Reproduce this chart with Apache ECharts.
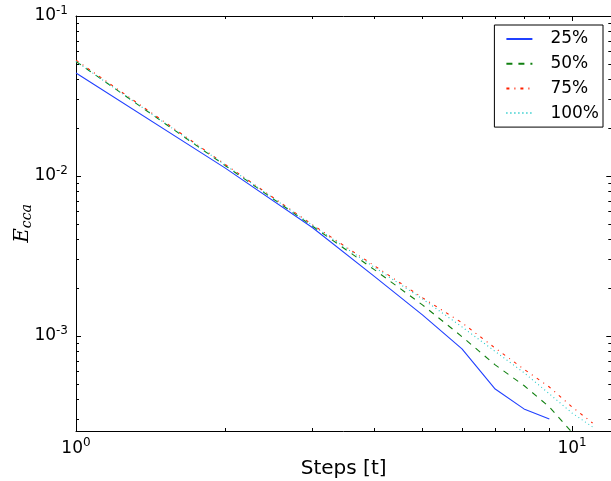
<!DOCTYPE html>
<html>
<head>
<meta charset="utf-8">
<script src="https://cdn.jsdelivr.net/npm/echarts@6/dist/echarts.min.js"></script>
<style>
html,body{margin:0;padding:0;background:#fff;}
#chart{width:611px;height:481px;}
</style>
</head>
<body>
<div id="chart"></div>
<script>
// ---- data ----
var steps = [1, 2, 3, 4, 5, 6, 7, 8, 9, 10, 11];
var seriesNames = ['25%', '50%', '75%', '100%'];
var e25  = [0.044, 0.0112, 0.00475, 0.00235, 0.00135, 0.00083, 0.000466, 0.00035, 0.000303];
var e50  = [0.052, 0.0116, 0.00485, 0.00259, 0.00156, 0.00099, 0.00066, 0.00049, 0.00036, 0.00025];
var e75  = [0.053, 0.0118, 0.00495, 0.00274, 0.00173, 0.00121, 0.00084, 0.00062, 0.00048, 0.00036, 0.000286];
var e100 = [0.052, 0.0117, 0.0049, 0.00268, 0.0017, 0.00114, 0.0008, 0.00059, 0.000435, 0.00033, 0.00027];
var xMajorTicks = [1, 10];
var xMinorTicks = [2, 3, 4, 5, 6, 7, 8, 9];
var yMajorTicks = [0.001, 0.01, 0.1];
var yMinorTicks = [0.0003, 0.0004, 0.0005, 0.0006, 0.0007, 0.0008, 0.0009,
                   0.002, 0.003, 0.004, 0.005, 0.006, 0.007, 0.008, 0.009,
                   0.02, 0.03, 0.04, 0.05, 0.06, 0.07, 0.08, 0.09];
var X_MIN = 1, X_MAX = 12, Y_MIN = 2.547e-4, Y_MAX = 0.1;

function pairs(vals) {
  var out = [];
  for (var i = 0; i < vals.length; i++) out.push([steps[i], vals[i]]);
  return out;
}

var FONT = 'DejaVu Sans';
var labelRich = {
  b: { fontSize: 17, fontFamily: FONT, color: '#000' },
  s: { fontSize: 12, fontFamily: FONT, color: '#000', padding: [0, 0, 11, 0] }
};
function powLabel(v) {
  return '{b|10}{s|' + Math.round(Math.log10(v)) + '}';
}

function xAx(pos, ticks, len, showLine, label) {
  return {
    type: 'log', position: pos, min: X_MIN, max: X_MAX, logBase: 10,
    axisLine: { show: showLine, lineStyle: { color: '#000', width: 1 } },
    axisTick: { show: true, inside: true, length: len, customValues: ticks, lineStyle: { color: '#000', width: 1 } },
    axisLabel: label ? { show: true, customValues: xMajorTicks, formatter: powLabel, rich: labelRich, margin: 6 } : { show: false },
    splitLine: { show: false }, minorTick: { show: false }
  };
}
function yAx(pos, ticks, len, showLine, label) {
  return {
    type: 'log', position: pos, min: Y_MIN, max: Y_MAX, logBase: 10,
    axisLine: { show: showLine, lineStyle: { color: '#000', width: 1 } },
    axisTick: { show: true, inside: true, length: len, customValues: ticks, lineStyle: { color: '#000', width: 1 } },
    axisLabel: label ? { show: true, customValues: yMajorTicks, formatter: powLabel, rich: labelRich, margin: 8 } : { show: false },
    splitLine: { show: false }, minorTick: { show: false }
  };
}

var xAxes = [
  xAx('bottom', xMajorTicks, 5, true, true),
  xAx('bottom', xMinorTicks, 3, false, false),
  xAx('top', xMajorTicks, 5, true, false),
  xAx('top', xMinorTicks, 3, false, false)
];
xAxes[0].name = 'Steps [t]';
xAxes[0].nameLocation = 'middle';
xAxes[0].nameGap = 28;
xAxes[0].nameMoveOverlap = false;
xAxes[0].nameTextStyle = { fontSize: 20, fontFamily: FONT, color: '#000' };

var yAxes = [
  yAx('left', yMajorTicks, 5, true, true),
  yAx('left', yMinorTicks, 3, false, false),
  yAx('right', yMajorTicks, 5, false, false),
  yAx('right', yMinorTicks, 3, false, false)
];
yAxes[0].name = '{e|E}{s|cca}';
yAxes[0].nameLocation = 'middle';
yAxes[0].nameGap = 42;
yAxes[0].nameRotate = 90;
yAxes[0].nameMoveOverlap = false;
yAxes[0].nameTextStyle = {
  rich: {
    e: { fontSize: 20, fontFamily: 'DejaVu Serif', fontStyle: 'italic', color: '#000' },
    s: { fontSize: 14, fontFamily: 'DejaVu Serif', fontStyle: 'italic', color: '#000', padding: [9, 0, 0, 0] }
  }
};

function lineSeries(name, vals, color, dash) {
  return {
    name: name, type: 'line', xAxisIndex: 0, yAxisIndex: 0,
    data: pairs(vals), showSymbol: false, symbol: 'none', clip: true,
    lineStyle: { color: color, width: 1.1, type: dash },
    itemStyle: { color: color },
    emphasis: { disabled: true }
  };
}

var chart = echarts.init(document.getElementById('chart'), null, { renderer: 'canvas' });
chart.setOption({
  animation: false,
  backgroundColor: '#fff',
  grid: { left: 76, top: 16, width: 535.3, height: 415, outerBoundsMode: 'none' },
  legend: {
    orient: 'vertical', right: 8, top: 25,
    itemWidth: 26, itemHeight: 14, itemGap: 4.7,
    padding: [4, 4, 4, 11],
    borderColor: '#000', borderWidth: 1, borderRadius: 0, backgroundColor: '#fff',
    itemStyle: { opacity: 0 },
    textStyle: { fontSize: 17, fontFamily: FONT, color: '#000', lineHeight: 20, padding: [0, 0, 0, 13] },
    data: seriesNames,
    selectedMode: false
  },
  xAxis: xAxes,
  yAxis: yAxes,
  series: [
    lineSeries(seriesNames[0], e25, '#2040ff', 'solid'),
    lineSeries(seriesNames[1], e50, '#108010', [6, 6]),
    lineSeries(seriesNames[2], e75, '#ff2000', [3, 5, 1, 5]),
    lineSeries(seriesNames[3], e100, '#20c8c8', [1, 3])
  ]
});
</script>
</body>
</html>
